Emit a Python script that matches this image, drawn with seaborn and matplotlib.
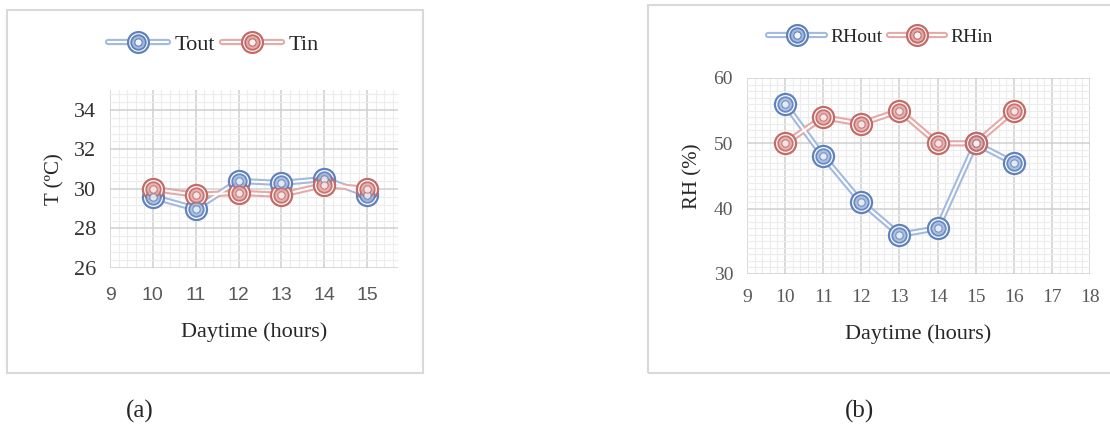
import numpy as np
import pandas as pd
import matplotlib.pyplot as plt
from matplotlib.ticker import AutoMinorLocator, MultipleLocator
from matplotlib.lines import Line2D
from matplotlib.patches import Rectangle
import seaborn as sns

# panel (a): temperature
hours_a = [10, 11, 12, 13, 14, 15]
t_out = [29.6, 29.0, 30.4, 30.3, 30.5, 29.7]
t_in = [30.0, 29.7, 29.8, 29.7, 30.2, 30.0]

# panel (b): relative humidity
hours_b = [10, 11, 12, 13, 14, 15, 16]
rh_out = [56, 48, 41, 36, 37, 50, 47]
rh_in = [50, 54, 53, 55, 50, 50, 55]

blue = "#5f82bd"
blue_pale = "#a3badf"
red = "#c46a67"
red_pale = "#e5aaa8"

sns.set_theme(style="white")
plt.rcParams["font.family"] = ["Liberation Serif", "DejaVu Serif"]

fig = plt.figure(figsize=(11.1, 4.29), dpi=100)

# chart frames
fig.patches.append(Rectangle((7 / 1110, 1 - 373 / 429), 416 / 1110, 363 / 429,
                             transform=fig.transFigure, fill=False,
                             edgecolor="#d9d9d9", lw=1.5))
fig.patches.append(Rectangle((648 / 1110, 1 - 373 / 429), 470 / 1110, 368 / 429,
                             transform=fig.transFigure, fill=False,
                             edgecolor="#d9d9d9", lw=1.5))

ax1 = fig.add_axes([110 / 1110, 1 - 268 / 429, 288 / 1110, 178 / 429])
ax2 = fig.add_axes([747 / 1110, 1 - 274 / 429, 343 / 1110, 196 / 429])


def double_series(ax, x, y, c, pale):
    df = pd.DataFrame({"x": x, "y": y})
    sns.lineplot(data=df, x="x", y="y", ax=ax, color=pale, lw=4.5, zorder=3)
    sns.lineplot(data=df, x="x", y="y", ax=ax, color="white", lw=1.5, zorder=4)
    sns.scatterplot(data=df, x="x", y="y", ax=ax, s=230, facecolor="white",
                    edgecolor=c, linewidth=1.6, zorder=5)
    sns.scatterplot(data=df, x="x", y="y", ax=ax, s=110, facecolor=pale,
                    edgecolor=c, linewidth=1.3, zorder=6, alpha=0.9)
    sns.scatterplot(data=df, x="x", y="y", ax=ax, s=28, facecolor="#f4f4f4",
                    edgecolor=c, linewidth=0.8, zorder=7, alpha=0.8)


def legend_handle(c, pale):
    return (Line2D([], [], color=pale, lw=4.5),
            Line2D([], [], color="white", lw=1.5),
            Line2D([], [], ls="", marker="o", ms=15, mfc="white", mec=c, mew=1.6),
            Line2D([], [], ls="", marker="o", ms=10.5, mfc=pale, mec=c, mew=1.3),
            Line2D([], [], ls="", marker="o", ms=5.3, mfc="#f4f4f4", mec=c, mew=0.8))


def style_axes(ax, xlim, ylim, ymaj, yminor, xpad):
    ax.set_xlim(*xlim)
    ax.set_ylim(*ylim)
    ax.xaxis.set_major_locator(MultipleLocator(1))
    ax.yaxis.set_major_locator(MultipleLocator(ymaj))
    ax.xaxis.set_minor_locator(AutoMinorLocator(5))
    ax.yaxis.set_minor_locator(AutoMinorLocator(yminor))
    ax.grid(which="major", color="#d0d0d0", lw=1.1)
    ax.grid(which="minor", color="#ececec", lw=0.8)
    ax.set_axisbelow(True)
    for s in ax.spines.values():
        s.set_visible(False)
    ax.tick_params(which="both", length=0, colors="#595959")
    ax.tick_params(axis="y", pad=10)
    ax.tick_params(axis="x", pad=xpad)
    ax.set_xlabel("Daytime (hours)", fontsize=16, color="#262626", labelpad=13)


double_series(ax1, hours_a, t_out, blue, blue_pale)
double_series(ax1, hours_a, t_in, red, red_pale)
style_axes(ax1, (9, 15.72), (26, 35), 2, 5, 14)
ax1.set_yticks([26, 28, 30, 32, 34])
ax1.tick_params(axis="y", labelsize=16, labelcolor="#333333")
ax1.tick_params(axis="x", labelsize=14)
for lab in ax1.get_xticklabels():
    lab.set_family(["Liberation Sans", "DejaVu Sans"])
ax1.set_ylabel("T (ºC)", fontsize=15, color="#262626", labelpad=7)
ax1.legend([legend_handle(blue, blue_pale), legend_handle(red, red_pale)],
           ["Tout", "Tin"], loc="center", bbox_to_anchor=(0.36, 1.253),
           ncol=2, frameon=False, fontsize=16, handlelength=2.7,
           columnspacing=0.3, handletextpad=0.3)

double_series(ax2, hours_b, rh_out, blue, blue_pale)
double_series(ax2, hours_b, rh_in, red, red_pale)
style_axes(ax2, (9, 18), (30, 60), 10, 10, 11)
ax2.tick_params(labelsize=14)
ax2.set_ylabel("RH (%)", fontsize=15, color="#262626", labelpad=8)
ax2.legend([legend_handle(blue, blue_pale), legend_handle(red, red_pale)],
           ["RHout", "RHin"], loc="center", bbox_to_anchor=(0.39, 1.21),
           ncol=2, frameon=False, fontsize=14, handlelength=2.9,
           columnspacing=0.3, handletextpad=0.3)

fig.text(140 / 1110, 1 - 411 / 429, "(a)", fontsize=18, ha="center", va="center")
fig.text(860 / 1110, 1 - 411 / 429, "(b)", fontsize=18, ha="center", va="center")

fig.savefig("out.png", dpi=100)
